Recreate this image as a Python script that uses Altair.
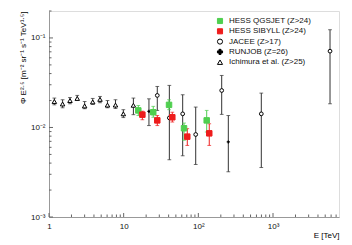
import altair as alt
import pandas as pd

# ---- data ----
series_names = ["HESS QGSJET (Z>24)", "HESS SIBYLL (Z>24)", "JACEE (Z>17)",
                "RUNJOB (Z=26)", "Ichimura et al. (Z>25)"]

qgs_E = [15.7, 24.9, 40.5, 64.3, 129.4]
qgs_v = [0.0155, 0.0148, 0.0179, 0.0098, 0.0120]
qgs_lo = [0.0136, 0.0130, 0.0158, 0.0072, 0.0089]
qgs_hi = [0.0176, 0.0172, 0.0204, 0.0112, 0.0155]

sib_E = [17.8, 28.2, 44.8, 71.1, 140.0]
sib_v = [0.0139, 0.0120, 0.0130, 0.0079, 0.0086]
sib_lo = [0.0122, 0.0105, 0.0115, 0.0063, 0.0063]
sib_hi = [0.0152, 0.0136, 0.0148, 0.0097, 0.0110]

jac_E = [28.2, 40.9, 61.7, 92.2, 205.5, 697.0, 5800.0]
jac_v = [0.0228, 0.0128, 0.0142, 0.00835, 0.0259, 0.0142, 0.0712]
jac_lo = [0.0155, 0.00436, 0.00483, 0.00386, 0.0140, 0.00357, 0.0184]
jac_hi = [0.0287, 0.0295, 0.0232, 0.0169, 0.0381, 0.0242, 0.1235]

run_E = [21.8, 252.0]
run_v = [0.0151, 0.00689]
run_lo = [0.0105, 0.0032]
run_hi = [0.0209, 0.0136]

ich_E = [1.18, 1.52, 1.91, 2.39, 3.0, 3.85, 4.82, 6.07, 7.77, 9.9, 13.5]
ich_v = [0.0195, 0.0183, 0.0200, 0.0211, 0.0174, 0.0193, 0.0206, 0.0178, 0.0178, 0.0142, 0.0177]
ich_lo = [0.0179, 0.0166, 0.0184, 0.0200, 0.0162, 0.0181, 0.0189, 0.0166, 0.0163, 0.0129, 0.0139]
ich_hi = [0.0213, 0.0204, 0.0216, 0.0228, 0.0195, 0.0211, 0.0222, 0.0200, 0.0204, 0.0158, 0.0213]

x_major = [1, 10, 100, 1000]
x_minor = [2, 3, 4, 5, 6, 7, 8, 9, 20, 30, 40, 50, 60, 70, 80, 90,
           200, 300, 400, 500, 600, 700, 800, 900, 2000, 3000, 4000, 5000, 6000, 7000]
y_major = [0.001, 0.01, 0.1]
y_minor = [0.002, 0.003, 0.004, 0.005, 0.006, 0.007, 0.008, 0.009,
           0.02, 0.03, 0.04, 0.05, 0.06, 0.07, 0.08, 0.09, 0.2]

# ---- build table ----
frames = []
for name, E, v, lo, hi in [
    (series_names[0], qgs_E, qgs_v, qgs_lo, qgs_hi),
    (series_names[1], sib_E, sib_v, sib_lo, sib_hi),
    (series_names[2], jac_E, jac_v, jac_lo, jac_hi),
    (series_names[3], run_E, run_v, run_lo, run_hi),
    (series_names[4], ich_E, ich_v, ich_lo, ich_hi),
]:
    frames.append(pd.DataFrame({"E": E, "v": v, "lo": lo, "hi": hi, "series": name}))
df = pd.concat(frames, ignore_index=True)

W, H = 290, 206
FONT = "Liberation Sans"
GREEN = "#4fcf4f"
RED = "#ee1c1c"
DARK = "#333333"

xscale = alt.Scale(type="log", domain=[1, 7650], nice=False)
yscale = alt.Scale(type="log", domain=[0.001, 0.2], nice=False)

xaxis = alt.Axis(values=x_major, ticks=False, grid=False, domainColor="#999999",
                 labelExpr="datum.value == 1 ? '1' : datum.value == 10 ? '10' : datum.value == 100 ? '10²' : '10³'",
                 labelFontSize=8, labelFont=FONT, labelColor="#111111", labelPadding=5,
                 title="E [TeV]", titleAnchor="end", titleFont=FONT, titleFontSize=8,
                 titleFontWeight="normal", titlePadding=1, labelFlush=False)
yaxis = alt.Axis(values=y_major, ticks=False, grid=False, domainColor="#999999",
                 labelExpr="datum.value == 0.001 ? '10⁻³' : datum.value == 0.01 ? '10⁻²' : '10⁻¹'",
                 labelFontSize=8, labelFont=FONT, labelColor="#111111", labelPadding=4,
                 title="Φ E²·⁵ [m⁻² sr⁻¹ s⁻¹ TeV¹·⁵]", titleAnchor="end", titleFont=FONT,
                 titleFontSize=8, titleFontWeight="normal", titlePadding=3, labelFlush=False)

base = alt.Chart(df)

legend = alt.Legend(title=None, orient="none", legendX=167, legendY=6, labelFontSize=8,
                    labelFont=FONT, labelColor="#111111", symbolSize=26, rowPadding=0.3,
                    labelOffset=5, padding=0, symbolStrokeWidth=1)

shape_enc = alt.Shape("series:N", scale=alt.Scale(domain=series_names,
                      range=["square", "square", "circle", "cross", "triangle-up"]), legend=legend)
fill_enc = alt.Fill("series:N", scale=alt.Scale(domain=series_names,
                    range=[GREEN, RED, "white", "black", "white"]), legend=legend)
stroke_enc = alt.Stroke("series:N", scale=alt.Scale(domain=series_names,
                        range=[GREEN, RED, "black", "black", "black"]), legend=legend)


def bars(name, color):
    sub = base.transform_filter(alt.datum.series == name)
    rule = sub.mark_rule(color=color, strokeWidth=1).encode(
        x=alt.X("E:Q", scale=xscale, axis=xaxis),
        y=alt.Y("lo:Q", scale=yscale, axis=yaxis),
        y2="hi:Q")
    cap_lo = sub.mark_point(shape="stroke", size=14, color=color, strokeWidth=1, filled=False).encode(
        x=alt.X("E:Q", scale=xscale), y=alt.Y("lo:Q", scale=yscale))
    cap_hi = sub.mark_point(shape="stroke", size=14, color=color, strokeWidth=1, filled=False).encode(
        x=alt.X("E:Q", scale=xscale), y=alt.Y("hi:Q", scale=yscale))
    return [rule, cap_lo, cap_hi]


def pts(name, size, sw=1):
    return base.transform_filter(alt.datum.series == name).mark_point(
        filled=True, size=size, strokeWidth=sw, opacity=1).encode(
        x=alt.X("E:Q", scale=xscale),
        y=alt.Y("v:Q", scale=yscale),
        shape=shape_enc, fill=fill_enc, stroke=stroke_enc)


# inward ticks
xt_major = alt.Chart(pd.DataFrame({"E": x_major})).mark_rule(color="#666666").encode(
    x=alt.X("E:Q", scale=xscale), y=alt.value(H), y2=alt.value(H - 4))
xt_minor = alt.Chart(pd.DataFrame({"E": x_minor})).mark_rule(color="#666666").encode(
    x=alt.X("E:Q", scale=xscale), y=alt.value(H), y2=alt.value(H - 2.5))
yt_major = alt.Chart(pd.DataFrame({"v": y_major})).mark_rule(color="#666666").encode(
    y=alt.Y("v:Q", scale=yscale), x=alt.value(0), x2=alt.value(4))
yt_minor = alt.Chart(pd.DataFrame({"v": y_minor})).mark_rule(color="#666666").encode(
    y=alt.Y("v:Q", scale=yscale), x=alt.value(0), x2=alt.value(2.5))

layers = []
layers += bars(series_names[4], DARK)
layers += bars(series_names[2], DARK)
layers += bars(series_names[3], DARK)
layers += bars(series_names[0], GREEN)
layers += bars(series_names[1], RED)
layers += [xt_major, xt_minor, yt_major, yt_minor]
layers += [pts(series_names[4], 20), pts(series_names[2], 14), pts(series_names[3], 10, 0),
           pts(series_names[0], 30), pts(series_names[1], 30)]

chart = alt.layer(*layers).properties(
    width=W, height=H, autosize="none",
    padding={"left": 41, "top": 3, "right": 5, "bottom": 26},
).configure_view(stroke="#222222", strokeWidth=1).configure(background="white")

chart.save("out.html", embed_options={"renderer": "svg", "actions": False})
